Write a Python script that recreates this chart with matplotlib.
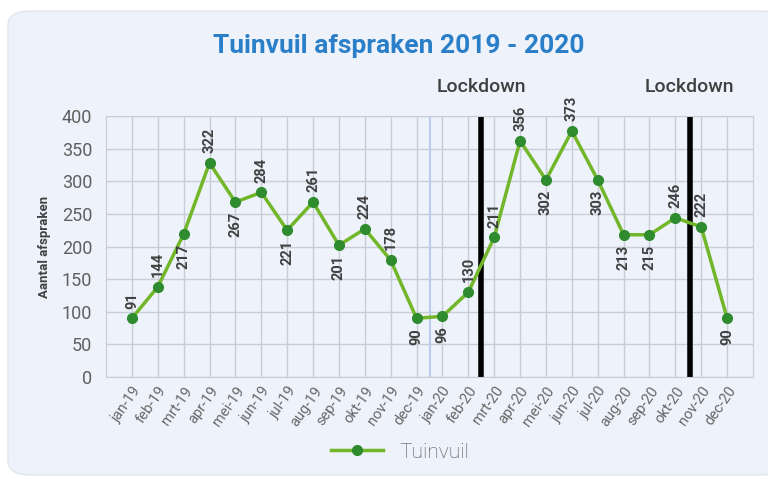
import numpy as np
import matplotlib.pyplot as plt
from matplotlib.patches import FancyBboxPatch

# --- Data ---
months = ['jan-19', 'feb-19', 'mrt-19', 'apr-19', 'mei-19', 'jun-19', 'jul-19', 'aug-19',
          'sep-19', 'okt-19', 'nov-19', 'dec-19', 'jan-20', 'feb-20', 'mrt-20', 'apr-20',
          'mei-20', 'jun-20', 'jul-20', 'aug-20', 'sep-20', 'okt-20', 'nov-20', 'dec-20']
# plotted point heights (as drawn in the chart)
values = [90, 138, 219, 328, 268, 283, 225, 268, 202, 227, 179, 90,
          93, 130, 214, 362, 302, 377, 302, 218, 218, 244, 230, 90]
# data labels as printed
labels = ['91', '144', '217', '322', '267', '284', '221', '261', '201', '224', '178', '90',
          '96', '130', '211', '356', '302', '373', '303', '213', '215', '246', '222', '90']
label_above = [True, True, False, True, False, True, False, True, False, True, True, False,
               False, True, True, True, False, True, False, False, False, True, True, False]
lockdowns = [13.5, 21.55]
year_split = 11.5

bg = '#EEF2FA'
txt = '#404040'

fig = plt.figure(figsize=(7.68, 4.79), dpi=100)
fig.patch.set_facecolor('white')
panel = FancyBboxPatch((8/768, 4/479), 775/768, 464/479,
                       boxstyle='round,pad=0,rounding_size=0.03',
                       transform=fig.transFigure, facecolor=bg, edgecolor='#E2E6EE',
                       linewidth=1, zorder=-5)
fig.patches.append(panel)

ax = fig.add_axes([106/768, 1 - 377/479, 647/768, 261/479])
ax.set_zorder(2)
ax.set_facecolor(bg)
x = np.arange(len(months))

ax.set_xlim(-1, 24)
ax.set_ylim(0, 400)
ax.set_yticks(np.arange(0, 401, 50))
ax.grid(True, color='#CACDD6', linewidth=1)
ax.set_axisbelow(True)
for s in ax.spines.values():
    s.set_color('#CACDD6')
ax.tick_params(length=0)

ax.set_xticks(x)
ax.set_xticklabels(months, rotation=55, ha='right', rotation_mode='anchor',
                   fontsize=10.5, color='#686868', family='Roboto')
ax.tick_params(axis='x', pad=5)
for t in ax.get_yticklabels():
    t.set_fontsize(13)
    t.set_color('#606060')
    t.set_family('Roboto')
ax.tick_params(axis='y', pad=10)

ax.axvline(year_split, color='#B8CCEE', linewidth=1.5, zorder=1)
for lx in lockdowns:
    ax.axvline(lx, color='black', linewidth=4, zorder=2)
    ax.text(lx, 1.11, 'Lockdown', transform=ax.get_xaxis_transform(), ha='center',
            va='center', fontsize=14, fontweight='medium', color=txt, family='Roboto')

ax.plot(x, values, color='#72B62A', linewidth=2.5, marker='o', markersize=7,
        markerfacecolor='#2E8B2E', markeredgecolor='#2E8B2E', label='Tuinvuil', zorder=3)

for xi, v, lab, up in zip(x, values, labels, label_above):
    if up:
        ax.annotate(lab, (xi, v), xytext=(0, 7), textcoords='offset points', rotation=90,
                    ha='center', va='bottom', fontsize=10.5, fontweight='bold', color=txt,
                    family='Roboto', annotation_clip=False)
    else:
        ax.annotate(lab, (xi, v), xytext=(0, -7), textcoords='offset points', rotation=90,
                    ha='center', va='top', fontsize=10.5, fontweight='bold', color=txt,
                    family='Roboto', annotation_clip=False)

ax.set_ylabel('Aantal afspraken', fontsize=9.5, fontweight='bold', color=txt,
              family='Roboto', labelpad=8)

fig.text(399/768, 1 - 46/479, 'Tuinvuil afspraken 2019 - 2020', ha='center', va='center',
         fontsize=19, fontweight='bold', color='#2A7FC8', family='Roboto')

leg = fig.legend(loc='center', bbox_to_anchor=(400/768, 1 - 452/479), frameon=False,
                 prop={'family': 'Roboto', 'size': 15, 'weight': 'light'}, handlelength=2.5)
for t in leg.get_texts():
    t.set_color('#505050')

fig.savefig('out.png', dpi=100, facecolor='white')
